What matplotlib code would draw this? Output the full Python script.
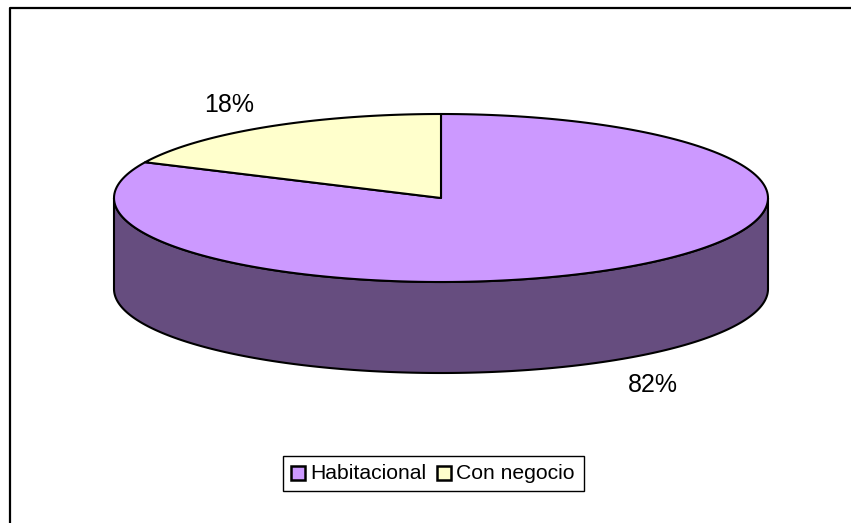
#!/usr/bin/env python3
"""Tasapinnaline 3D-laadne sektordiagramm: Habitacional / Con negocio."""

import matplotlib

matplotlib.use("Agg")

import matplotlib.patches as patches
import matplotlib.pyplot as plt
import numpy as np

plt.rcParams["font.family"] = ["Liberation Sans", "DejaVu Sans"]

categories = ["Habitacional", "Con negocio"]
values = [82, 18]
pct_labels = ["82%", "18%"]

top_colors = ["#CC99FF", "#FFFFCC"]
side_colors = ["#664D7F", "#7F7F66"]

W, H = 851, 523
CX, CY = 441, 198
RX, RY = 327, 84
DEPTH = 91
EDGE = 1.5


def rim(start, end, n=200):
    # nurgad kraadides kellaosuti suunas ülevalt
    t = np.radians(np.linspace(start, end, n))
    return CX + RX * np.sin(t), CY - RY * np.cos(t)


fig = plt.figure(figsize=(W / 100, H / 100), dpi=100)
ax = fig.add_axes([0, 0, 1, 1])
ax.set_xlim(0, W)
ax.set_ylim(H, 0)
ax.axis("off")

# Välimine raam: ainult vasak ja ülemine joon on pildil näha
ax.plot([10, 10, 851], [523, 8, 8], color="black", lw=1.6, solid_capstyle="butt")

shares = np.cumsum([0] + values) / sum(values) * 360

# Külgsein (ainult esiosa, 90..270 kraadi)
xs, ys = rim(90, 270)
side_x = np.r_[xs, xs[::-1]]
side_y = np.r_[ys, ys[::-1] + DEPTH]
ax.add_patch(
    patches.Polygon(
        np.c_[side_x, side_y],
        closed=True,
        facecolor=side_colors[0],
        edgecolor="black",
        lw=EDGE,
        joinstyle="round",
    )
)

# Pealmised sektorid
for i in range(len(values)):
    xs, ys = rim(shares[i], shares[i + 1])
    ax.add_patch(
        patches.Polygon(
            np.c_[np.r_[CX, xs], np.r_[CY, ys]],
            closed=True,
            facecolor=top_colors[i],
            edgecolor="black",
            lw=EDGE,
            joinstyle="round",
        )
    )

ax.text(653, 384.5, pct_labels[0], ha="center", va="center", fontsize=18, color="black")
ax.text(229, 105, pct_labels[1], ha="center", va="center", fontsize=18, color="black")

# Legend
ax.add_patch(
    patches.Rectangle((283, 456), 301, 35, facecolor="white", edgecolor="black", lw=1.0)
)
for x_box, x_txt, color, name in zip((290.5, 436.5), (310, 456), top_colors, categories):
    ax.add_patch(
        patches.Rectangle((x_box, 466), 14, 14, facecolor=color, edgecolor="black", lw=1.8)
    )
    ax.text(x_txt, 473.5, name, ha="left", va="center", fontsize=15.2, color="black")

fig.savefig("out.png", dpi=100, facecolor="white")
plt.close(fig)
